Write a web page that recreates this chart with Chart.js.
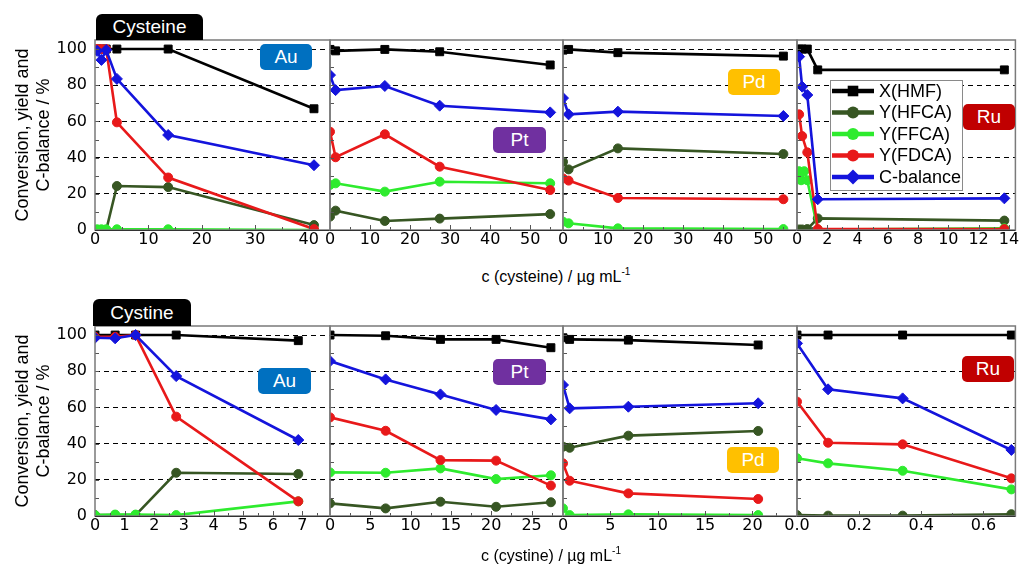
<!DOCTYPE html>
<html>
<head>
<meta charset="utf-8">
<script src="https://cdn.jsdelivr.net/npm/chart.js@4.4.1/dist/chart.umd.min.js"></script>
<style>
  html, body { margin: 0; padding: 0; background: #fff; }
  body { width: 1022px; height: 567px; overflow: hidden; position: relative; font-family: "Liberation Sans", Arial, sans-serif; }
  canvas { position: absolute; }
  .xt { position: absolute; font-size: 16px; line-height: 20px; white-space: nowrap; transform: translateX(-50%); color: #000; z-index: 5; }
  .xt sup { font-size: 10px; vertical-align: baseline; position: relative; top: -7px; }
  .tab { position: absolute; background: #000; color: #fff; font-size: 19px; text-align: center; border-radius: 6px 6px 0 0; z-index: 5; }
  .badge { position: absolute; color: #fff; font-size: 19px; text-align: center; border-radius: 5px; z-index: 5; }
</style>
</head>
<body>
<script>
// ---------------- data ----------------
const seriesNames = ['X(HMF)', 'Y(HFCA)', 'Y(FFCA)', 'Y(FDCA)', 'C-balance'];

// Cysteine (top row), x in µg/mL
const auCysX    = [0.4, 1.2, 2.1, 4.1, 13.7, 41];
const auCysHMF  = [100, 100, 100, 100, 100, 67];
const auCysHFCA = [0, 0, 0, 24.3, 23.7, 2.7];
const auCysFFCA = [0.4, 0.4, 0.4, 0.4, 0.4, 0];
const auCysFDCA = [100, 100, 100, 59.5, 29, 0.5];
const auCysCB   = [99, 94, 99.5, 83.5, 52.5, 35.8];

const ptCysX    = [0, 1.4, 13.7, 27.4, 55];
const ptCysHMF  = [99.8, 99, 99.8, 98.5, 91.2];
const ptCysHFCA = [7.4, 10.7, 5, 6.3, 8.8];
const ptCysFFCA = [24.9, 25.8, 21.2, 26.7, 25.8];
const ptCysFDCA = [54.3, 40.2, 52.9, 35, 22.1];
const ptCysCB   = [85.6, 77.3, 79.6, 68.7, 65];

const pdCysX    = [0, 1.4, 13.7, 55];
const pdCysHMF  = [99.4, 99.8, 98, 96.1];
const pdCysHFCA = [37.7, 33.5, 45.1, 42];
const pdCysFFCA = [4.6, 3.7, 0.9, 0.5];
const pdCysFDCA = [28.5, 27.3, 17.7, 17];
const pdCysCB   = [72.9, 63.9, 65.4, 63];

const ruCysX     = [0.14, 0.34, 0.68, 1.37, 13.7];
const ruCysFFCAX = [0.14, 0.27, 0.48, 0.68, 1.37, 13.7];
const ruCysHMF   = [100, 100, 100, 88.5, 88.5];
const ruCysHFCA  = [0.3, 0.3, 0.5, 6.4, 5.2];
const ruCysFFCA  = [32.5, 27.5, 32.5, 27.5, 0.3, 0.9];
const ruCysFDCA  = [63.9, 51.9, 42.9, 0.5, 0.5];
const ruCysCB    = [95.8, 79.2, 74.6, 17, 17.5];

// Cystine (bottom row)
const auCyiX    = [0, 0.68, 1.37, 2.74, 6.86];
const auCyiHMF  = [100, 100, 100, 100, 96.9];
const auCyiHFCA = [0.5, 0.5, 0.5, 23.9, 23.2];
const auCyiFFCA = [0.5, 0.8, 0.8, 0.5, 8.1];
const auCyiFDCA = [99, 99, 100, 54.9, 8.1];
const auCyiCB   = [98.5, 98.2, 100, 77.3, 42];

const ptCyiX    = [0, 6.9, 13.7, 20.6, 27.4];
const ptCyiHMF  = [100, 99.6, 97.6, 97.6, 93];
const ptCyiHFCA = [7, 4.2, 7.9, 5.1, 7.6];
const ptCyiFFCA = [24.1, 23.9, 26.3, 20.4, 22.5];
const ptCyiFDCA = [54.5, 47.1, 30.9, 30.6, 16.8];
const ptCyiCB   = [85.6, 75.5, 67.2, 58.6, 53.4];

const pdCyiX    = [0, 0.7, 6.9, 20.6];
const pdCyiHMF  = [98.5, 97.6, 97.2, 94.5];
const pdCyiHFCA = [38.3, 37.7, 44.4, 47];
const pdCyiFFCA = [4.2, 0.5, 0.9, 0.5];
const pdCyiFDCA = [29.1, 19.5, 12.5, 9.4];
const pdCyiCB   = [72.4, 59.5, 60.4, 62.3];

const ruCyiX    = [0, 0.1, 0.34, 0.69];
const ruCyiHMF  = [100, 100, 100, 100];
const ruCyiHFCA = [0.5, 0.2, 0.2, 1];
const ruCyiFFCA = [31.9, 29.1, 25, 14.7];
const ruCyiFDCA = [63.2, 40.5, 39.6, 20.8];
const ruCyiCB   = [95.4, 70, 65, 36.5];

// axis ranges / tick steps
const yMin = 0, yMax = 105, yStep = 20;
const cysXMax  = [44, 58.2, 58.4, 14.43];
const cysXStep = [10, 10, 10, 2];
const cyiXMax  = [7.93, 28.9, 24.7, 0.703];
const cyiXStep = [1, 5, 5, 0.2];
const yTitle = ['Conversion, yield and', 'C-balance / %'];

// ---------------- styles / layout ----------------
const seriesColors  = ['#000000', '#375623', '#2EEB2E', '#E8191A', '#1414DC'];
const seriesMarkers = ['rect', 'circle', 'circle', 'circle', 'rectRot'];
const seriesRadius  = [5.6, 4.5, 4.5, 4.5, 5.5];
const colEdges = [95, 330, 563, 797, 1020];
const rowEdges = [[40, 230], [326, 516]];
const FONT = '"Liberation Sans", Arial, sans-serif';
const TICKFONT = '"DejaVu Sans", sans-serif';

const panels = [
  {row: 0, col: 0, x: auCysX, s: [auCysHMF, auCysHFCA, auCysFFCA, auCysFDCA, auCysCB]},
  {row: 0, col: 1, x: ptCysX, s: [ptCysHMF, ptCysHFCA, ptCysFFCA, ptCysFDCA, ptCysCB]},
  {row: 0, col: 2, x: pdCysX, s: [pdCysHMF, pdCysHFCA, pdCysFFCA, pdCysFDCA, pdCysCB]},
  {row: 0, col: 3, x: ruCysX, s: [ruCysHMF, ruCysHFCA, ruCysFFCA, ruCysFDCA, ruCysCB], sx: {2: ruCysFFCAX}, legend: true},
  {row: 1, col: 0, x: auCyiX, s: [auCyiHMF, auCyiHFCA, auCyiFFCA, auCyiFDCA, auCyiCB]},
  {row: 1, col: 1, x: ptCyiX, s: [ptCyiHMF, ptCyiHFCA, ptCyiFFCA, ptCyiFDCA, ptCyiCB]},
  {row: 1, col: 2, x: pdCyiX, s: [pdCyiHMF, pdCyiHFCA, pdCyiFFCA, pdCyiFDCA, pdCyiCB]},
  {row: 1, col: 3, x: ruCyiX, s: [ruCyiHMF, ruCyiHFCA, ruCyiFFCA, ruCyiFDCA, ruCyiCB]}
];

function mark(ctx, style, x, y, r) {
  ctx.beginPath();
  if (style === 'rect') { const h = r * Math.SQRT1_2; ctx.rect(x - h, y - h, 2 * h, 2 * h); }
  else if (style === 'rectRot') { ctx.moveTo(x, y - r); ctx.lineTo(x + r, y); ctx.lineTo(x, y + r); ctx.lineTo(x - r, y); ctx.closePath(); }
  else ctx.arc(x, y, r, 0, Math.PI * 2);
  ctx.fill();
}

const framePlugin = {
  id: 'frame',
  afterDraw(chart) {
    const {ctx, chartArea: a} = chart;
    ctx.save();
    ctx.strokeStyle = '#555'; ctx.lineWidth = 1;
    const xs = chart.scales.x, ys = chart.scales.y;
    const xstep = chart.options.scales.x.ticks.stepSize / 2;
    ctx.beginPath();
    for (let i = 0; i * xstep <= xs.max + 1e-9; i++) {
      const px = Math.round(xs.getPixelForValue(i * xstep)) + 0.5;
      if (px <= a.left + 1 || px >= a.right - 1) continue;
      ctx.moveTo(px, a.bottom); ctx.lineTo(px, a.bottom - (i % 2 ? 3 : 5));
    }
    for (let v = 10; v < ys.max; v += 10) {
      const py = Math.round(ys.getPixelForValue(v)) + 0.5;
      ctx.moveTo(a.left, py); ctx.lineTo(a.left + 4, py);
    }
    ctx.stroke();
    ctx.strokeStyle = '#7a7a7a'; ctx.lineWidth = 1.5;
    ctx.strokeRect(a.left, a.top, a.right - a.left, a.bottom - a.top);
    ctx.strokeStyle = '#333'; ctx.lineWidth = 1;
    ctx.beginPath(); ctx.moveTo(a.left, a.bottom + 0.5); ctx.lineTo(a.right, a.bottom + 0.5); ctx.stroke();
    ctx.restore();
  }
};

const legendPlugin = {
  id: 'innerLegend',
  afterDraw(chart) {
    const o = chart.options.plugins.innerLegend;
    if (!o || !o.show) return;
    const {ctx} = chart;
    ctx.save();
    ctx.fillStyle = '#fff'; ctx.strokeStyle = '#8a8a8a'; ctx.lineWidth = 1;
    ctx.fillRect(o.x, o.y, o.w, o.h); ctx.strokeRect(o.x + 0.5, o.y + 0.5, o.w, o.h);
    chart.data.datasets.forEach((ds, k) => {
      const cy = o.y + 11 + k * 21.5;
      ctx.strokeStyle = ds.borderColor; ctx.lineWidth = 4.5;
      ctx.beginPath(); ctx.moveTo(o.x + 2, cy); ctx.lineTo(o.x + 44, cy); ctx.stroke();
      ctx.fillStyle = ds.borderColor;
      mark(ctx, seriesMarkers[k], o.x + 23, cy, k === 0 ? 7.5 : (k === 4 ? 7.5 : 6));
      ctx.fillStyle = '#000'; ctx.font = '18px ' + FONT; ctx.textBaseline = 'middle'; ctx.textAlign = 'left';
      ctx.fillText(ds.label, o.x + 49, cy + 1);
    });
    ctx.restore();
  }
};

panels.forEach((p) => {
  const L = colEdges[p.col], R = colEdges[p.col + 1];
  const [T, B] = rowEdges[p.row];
  const yw = p.col === 0 ? 95 : 0;
  const pl = p.col === 0 ? 0 : 12;
  const pr = p.col === 3 ? 2 : 12;
  const pt = 10, xh = 30;
  const left = L - yw - pl, top = T - pt;
  const w = (R - L) + yw + pl + pr, h = (B - T) + pt + xh;
  const cv = document.createElement('canvas');
  cv.width = w; cv.height = h;
  cv.style.left = left + 'px'; cv.style.top = top + 'px';
  cv.style.width = w + 'px'; cv.style.height = h + 'px';
  document.body.appendChild(cv);

  const xmax = p.row === 0 ? cysXMax[p.col] : cyiXMax[p.col];
  const xstep = p.row === 0 ? cysXStep[p.col] : cyiXStep[p.col];

  const datasets = p.s.map((vals, k) => {
    const xv = (p.sx && p.sx[k]) || p.x;
    return {
      label: seriesNames[k],
      data: vals.map((v, j) => ({x: xv[j], y: v})),
      borderColor: seriesColors[k],
      backgroundColor: seriesColors[k],
      pointBackgroundColor: seriesColors[k],
      pointBorderColor: seriesColors[k],
      pointBorderWidth: 1,
      borderWidth: 2.6,
      pointStyle: seriesMarkers[k],
      pointRadius: seriesRadius[k],
      tension: 0,
      order: 4 - k
    };
  });

  new Chart(cv, {
    type: 'line',
    data: {datasets},
    plugins: [framePlugin, legendPlugin],
    options: {
      responsive: false,
      animation: false,
      devicePixelRatio: 1,
      layout: {padding: {left: pl, right: pr, top: pt, bottom: 0}},
      plugins: {
        legend: {display: false},
        tooltip: {enabled: false},
        innerLegend: {show: !!p.legend, x: 830 - left, y: 80 - top, w: 132, h: 110}
      },
      scales: {
        x: {
          type: 'linear', min: 0, max: xmax,
          afterFit: (s) => { s.height = xh; s.paddingLeft = 0; s.paddingRight = 0; },
          ticks: {
            stepSize: xstep, includeBounds: false, autoSkip: false, maxRotation: 0,
            color: '#000', padding: 0, font: {family: TICKFONT, size: 16},
            callback: (v) => xstep < 1 ? v.toFixed(1) : String(Math.round(v))
          },
          grid: {display: true, drawOnChartArea: false, drawTicks: false},
          border: {display: false}
        },
        y: {
          type: 'linear', min: yMin, max: yMax,
          afterFit: (s) => { s.width = yw; s.paddingTop = 0; s.paddingBottom = 0; },
          ticks: {
            display: p.col === 0, stepSize: yStep, includeBounds: false,
            color: '#000', padding: 8, font: {family: TICKFONT, size: 16}
          },
          grid: {
            drawTicks: false, lineWidth: 1,
            color: (c) => (c.tick && c.tick.value === 0) ? 'rgba(0,0,0,0)' : '#000'
          },
          border: {display: false, dash: [5, 4]},
          title: {
            display: p.col === 0, text: yTitle, color: '#000',
            font: {family: FONT, size: 18}, padding: {top: 12, bottom: 0}
          }
        }
      }
    }
  });
});
</script>

<div class="tab" style="left:96px;top:14px;width:107px;height:26px;line-height:26px;">Cysteine</div>
<div class="tab" style="left:93px;top:299px;width:98px;height:27px;line-height:27px;">Cystine</div>

<div class="badge" style="left:260px;top:44px;width:52px;height:26px;line-height:26px;background:#0070C0;">Au</div>
<div class="badge" style="left:493px;top:127px;width:53px;height:26px;line-height:26px;background:#7030A0;">Pt</div>
<div class="badge" style="left:728px;top:69px;width:52px;height:26px;line-height:26px;background:#FFC000;">Pd</div>
<div class="badge" style="left:963px;top:104px;width:52px;height:26px;line-height:26px;background:#C00000;">Ru</div>
<div class="badge" style="left:258px;top:368px;width:53px;height:26px;line-height:26px;background:#0070C0;">Au</div>
<div class="badge" style="left:493px;top:359px;width:53px;height:26px;line-height:26px;background:#7030A0;">Pt</div>
<div class="badge" style="left:727px;top:447px;width:52px;height:26px;line-height:26px;background:#FFC000;">Pd</div>
<div class="badge" style="left:962px;top:356px;width:52px;height:26px;line-height:26px;background:#C00000;">Ru</div>

<div class="xt" style="left:556px;top:267px;">c (cysteine) / µg mL<sup>-1</sup></div>
<div class="xt" style="left:551px;top:546px;">c (cystine) / µg mL<sup>-1</sup></div>
</body>
</html>
